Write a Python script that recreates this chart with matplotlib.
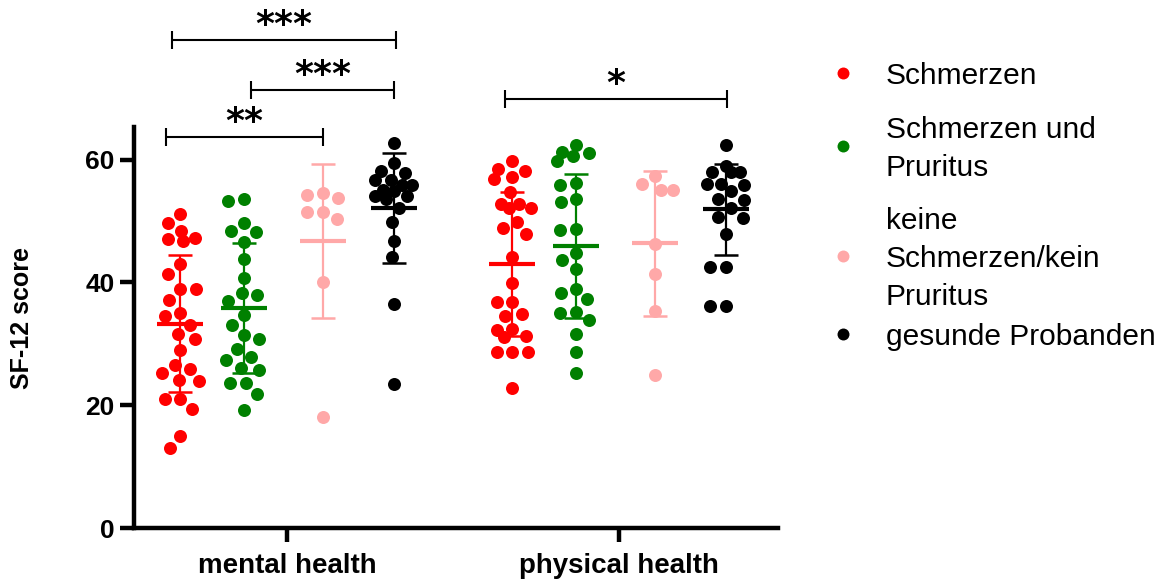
import numpy as np
import matplotlib
matplotlib.use("Agg")
import matplotlib.pyplot as plt

# ---------------- data ----------------
groups = ["mental health", "physical health"]
categories = ["Schmerzen", "Schmerzen und\nPruritus", "keine\nSchmerzen/kein\nPruritus", "gesunde Probanden"]
colors = ["#FF0000", "#008000", "#FFA8A8", "#000000"]

mh_schmerzen = [51.2, 49.7, 48.4, 47.3, 47.0, 46.7, 43.0, 41.4, 39.0, 39.0, 37.2, 35.0, 34.5, 33.1,
                31.6, 30.7, 29.0, 26.6, 25.9, 25.2, 24.1, 24.0, 21.0, 21.0, 19.4, 15.0, 13.1]
mh_schmerzen_pruritus = [53.5, 53.2, 49.7, 48.4, 48.2, 46.5, 43.8, 40.7, 38.2, 38.0, 36.9, 34.7, 33.1,
                         31.4, 30.7, 29.1, 27.9, 27.4, 26.0, 25.7, 23.6, 23.6, 21.8, 19.2]
mh_keine = [54.5, 54.3, 53.8, 51.5, 51.4, 50.3, 40.0, 18.1]
mh_gesund = [62.7, 59.5, 58.1, 57.8, 56.7, 56.7, 55.9, 55.9, 55.1, 54.8, 54.0, 54.0, 53.5, 52.1,
             49.9, 46.7, 44.2, 36.4, 23.4]

ph_schmerzen = [59.7, 58.5, 58.2, 57.2, 56.9, 54.7, 52.7, 52.7, 52.1, 52.1, 49.9, 48.9, 47.8, 44.1,
                39.9, 36.8, 36.8, 34.9, 34.6, 32.4, 32.3, 31.3, 31.1, 28.6, 28.6, 28.6, 22.8]
ph_schmerzen_pruritus = [62.3, 61.3, 61.1, 60.5, 59.7, 56.2, 55.9, 53.6, 53.1, 48.7, 48.5, 44.8, 43.7,
                         42.2, 39.0, 38.3, 37.3, 35.2, 35.0, 33.9, 31.6, 28.6, 25.3]
ph_keine = [57.4, 56.0, 55.1, 55.1, 46.3, 41.4, 35.3, 24.9]
ph_gesund = [62.4, 58.9, 57.9, 57.9, 57.9, 56.0, 56.0, 55.8, 54.8, 53.5, 53.4, 52.1, 50.7, 50.5,
             47.8, 42.5, 42.5, 36.2, 36.2]

mh_mean = [33.3, 35.8, 46.7, 52.1]
mh_sd = [11.1, 10.6, 12.5, 8.9]
ph_mean = [43.0, 45.9, 46.4, 51.9]
ph_sd = [11.7, 11.7, 11.8, 7.4]

values = [[mh_schmerzen, mh_schmerzen_pruritus, mh_keine, mh_gesund],
          [ph_schmerzen, ph_schmerzen_pruritus, ph_keine, ph_gesund]]
means = [mh_mean, ph_mean]
sds = [mh_sd, ph_sd]

# significance: (group, category a, category b, label, bar height)
sig_group = [0, 0, 0, 1]
sig_a = [0, 1, 0, 0]
sig_b = [3, 3, 2, 3]
sig_label = ["***", "***", "**", "*"]
sig_y = [79.4, 71.4, 63.6, 69.8]

yticks = [0, 20, 40, 60]

# ---------------- layout / style ----------------
W, H = 1163, 588
fig = plt.figure(figsize=(W / 100, H / 100), dpi=100)
ax_l, ax_r, ax_b, ax_t = 134, 778, 528, 127
ax = fig.add_axes([ax_l / W, (H - ax_b) / H, (ax_r - ax_l) / W, (ax_b - ax_t) / H])
XMIN, XMAX = -0.461, 1.479
YMIN, YMAX = 0, 65.3
ax.set_xlim(XMIN, XMAX)
ax.set_ylim(YMIN, YMAX)
xpx = (ax_r - ax_l) / (XMAX - XMIN)
ypx = (ax_b - ax_t) / (YMAX - YMIN)

hue_offsets = [-0.322, -0.130, 0.108, 0.322]
bracket_nudge_a_px = [-8, 7, -14, -7]
bracket_nudge_b_px = [2, 0, 0, 1]
marker_px = 13.0
collide_px = 15.5
max_off_px = 18.5
s_marker = (marker_px * 72 / 100) ** 2


def swarm(vals_px, d, wmax):
    order = np.argsort(-np.asarray(vals_px))
    placed = []
    offs = np.zeros(len(vals_px))
    grid = np.linspace(-wmax, wmax, 15)
    for i in order:
        y = vals_px[i]
        cands = [0.0]
        for (px_, py_) in placed:
            dy = abs(py_ - y)
            if dy < d:
                dx = np.sqrt(d * d - dy * dy)
                cands += [px_ - dx, px_ + dx]
        cands = [c for c in sorted(cands, key=abs) if abs(c) <= wmax + 1e-9]
        chosen = None
        for c in cands:
            if all((c - px_) ** 2 + (y - py_) ** 2 >= d * d - 1e-6 for px_, py_ in placed):
                chosen = c
                break
        if chosen is None:
            best, bestd = 0.0, -1
            for c in sorted(grid, key=abs):
                md = min(np.hypot(c - px_, y - py_) for px_, py_ in placed)
                if md > bestd + 1e-6:
                    best, bestd = c, md
            chosen = best
        offs[i] = chosen
        placed.append((chosen, y))
    return offs


mean_half = 23 / xpx
cap_half = 12 / xpx
for g in range(len(groups)):
    for c in range(len(categories)):
        v = np.asarray(values[g][c], dtype=float)
        xc = g + hue_offsets[c]
        offs = swarm(v * ypx, collide_px, max_off_px) / xpx
        ax.scatter(xc + offs, v, s=s_marker, color=colors[c], linewidths=0, zorder=3, clip_on=False)
        m, sd = means[g][c], sds[g][c]
        ax.plot([xc, xc], [m - sd, m + sd], color=colors[c], lw=1.6, zorder=4, solid_capstyle="butt")
        ax.plot([xc - cap_half, xc + cap_half], [m + sd, m + sd], color=colors[c], lw=1.8, zorder=4,
                solid_capstyle="butt")
        ax.plot([xc - cap_half, xc + cap_half], [m - sd, m - sd], color=colors[c], lw=1.8, zorder=4,
                solid_capstyle="butt")
        ax.plot([xc - mean_half, xc + mean_half], [m, m], color=colors[c], lw=3.0, zorder=5,
                solid_capstyle="butt")

# significance brackets
cap_h = 9 / ypx
for k, (g, a, b, lab, yb) in enumerate(zip(sig_group, sig_a, sig_b, sig_label, sig_y)):
    x1 = g + hue_offsets[a] + bracket_nudge_a_px[k] / xpx
    x2 = g + hue_offsets[b] + bracket_nudge_b_px[k] / xpx
    ax.plot([x1, x2], [yb, yb], color="black", lw=1.5, clip_on=False, solid_capstyle="butt")
    for xx in (x1, x2):
        ax.plot([xx, xx], [yb - cap_h, yb + cap_h], color="black", lw=1.5, clip_on=False,
                solid_capstyle="butt")
    ax.text((x1 + x2) / 2, yb + 5 / ypx, lab, ha="center", va="baseline",
            fontsize=26, fontweight="bold", family="DejaVu Sans", clip_on=False)

# axes styling
for sp in ("top", "right"):
    ax.spines[sp].set_visible(False)
for sp in ("left", "bottom"):
    ax.spines[sp].set_linewidth(3.2)
ax.set_yticks(yticks)
ax.set_yticklabels([str(t) for t in yticks], fontsize=19, fontweight="bold", family="Liberation Sans")
ax.set_xticks(range(len(groups)))
ax.set_xticklabels(groups, fontsize=20, fontweight="bold", family="Liberation Sans")
ax.tick_params(axis="y", length=10, width=3.2, pad=4)
ax.tick_params(axis="x", length=10, width=3.2, pad=8)
ax.set_ylabel("SF-12 score", fontsize=18, fontweight="bold", family="Liberation Sans")
ax.yaxis.set_label_coords((34 - ax_l) / (ax_r - ax_l), (ax_b - 318) / (ax_b - ax_t))

# legend (manual, in pixel coordinates)
lax = fig.add_axes([0, 0, 1, 1])
lax.set_xlim(0, W)
lax.set_ylim(H, 0)
lax.axis("off")
first_baselines = [84, 138, 229, 345]
line_step = 38
for lab, col, b0 in zip(categories, colors, first_baselines):
    lines = lab.split("\n")
    for k, ln in enumerate(lines):
        lax.text(886, b0 + k * line_step, ln, fontsize=21.5, family="Liberation Sans",
                 ha="left", va="baseline")
    ym = b0 + (len(lines) - 1) * line_step / 2 - 11
    lax.plot([843], [ym], "o", color=col, markersize=8.6, markeredgewidth=0)

fig.savefig("out.png", dpi=100)
